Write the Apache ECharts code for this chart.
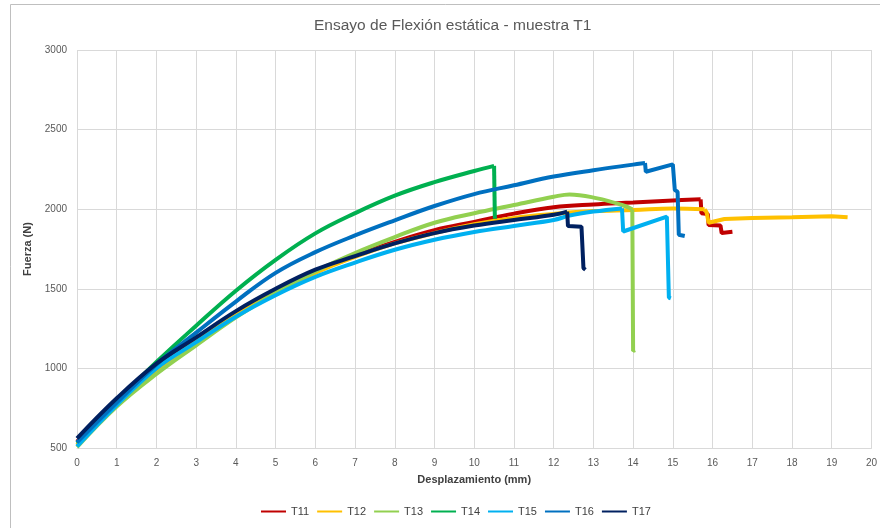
<!DOCTYPE html>
<html>
<head>
<meta charset="utf-8">
<script src="https://cdn.jsdelivr.net/npm/echarts@6/dist/echarts.min.js"></script>
<style>
  html, body { margin: 0; padding: 0; background: #fff; }
  #chart { width: 880px; height: 528px; }
</style>
</head>
<body>
<div id="chart"></div>
<script>
// curves: [desplazamiento mm, fuerza N]
// "rise" = the loading curve, "tail" = the steps and drops after failure
const seriesNames = ['T11', 'T12', 'T13', 'T14', 'T15', 'T16', 'T17']
const seriesColors = ['#C00000', '#FFC000', '#92D050', '#00B050', '#00B0F0', '#0070C0', '#002060']

const t11Rise = [[0, 540], [1, 790], [2, 1010], [3, 1185], [4, 1345], [5, 1490], [6, 1610], [7, 1710], [8, 1795], [9, 1868], [10, 1920], [11, 1972], [12, 2012], [13, 2030], [14, 2042], [15, 2055], [15.7, 2062]]
const t11Tail = [[15.7, 2062], [15.72, 1975], [15.88, 1970], [15.9, 1900], [16.2, 1898], [16.23, 1850], [16.5, 1858]]
const t12Rise = [[0, 520], [1, 775], [2, 990], [3, 1170], [4, 1335], [5, 1480], [6, 1600], [7, 1700], [8, 1785], [9, 1850], [10, 1905], [11, 1945], [12, 1970], [13, 1988], [14, 1995], [15, 2005], [15.8, 2000]]
const t12Tail = [[15.8, 2000], [15.85, 1980], [15.9, 1915], [16.3, 1938], [17, 1945], [18, 1950], [19, 1956], [19.4, 1950]]
const t13Rise = [[0, 505], [1, 760], [2, 965], [3, 1145], [4, 1320], [5, 1475], [6, 1610], [7, 1725], [8, 1825], [9, 1915], [10, 1975], [11, 2026], [12, 2078], [12.4, 2093], [13.1, 2068], [13.7, 2028], [13.98, 2000]]
const t13Tail = [[13.98, 2000], [14.0, 1110], [14.05, 1115]]
const t14Rise = [[0, 530], [1, 790], [2, 1040], [3, 1268], [4, 1488], [5, 1682], [6, 1848], [7, 1975], [8, 2085], [9, 2170], [10, 2240], [10.5, 2272]]
const t14Tail = [[10.5, 2272], [10.52, 1940]]
const t15Rise = [[0, 510], [1, 770], [2, 1000], [3, 1165], [4, 1325], [5, 1460], [6, 1575], [7, 1665], [8, 1745], [9, 1808], [10, 1857], [11, 1895], [12, 1932], [12.4, 1960], [13, 1985], [13.72, 2005]]
const t15Tail = [[13.72, 2005], [13.75, 1860], [14.85, 1953], [14.9, 1445], [14.95, 1440]]
const t16Rise = [[0, 535], [1, 785], [2, 1025], [3, 1225], [4, 1420], [5, 1600], [6, 1730], [7, 1835], [8, 1930], [9, 2020], [10, 2095], [11, 2150], [12, 2205], [13, 2245], [14, 2280], [14.3, 2290]]
const t16Tail = [[14.3, 2290], [14.32, 2235], [15.0, 2282], [15.05, 2120], [15.12, 2110], [15.15, 1840], [15.3, 1832]]
const t17Rise = [[0, 560], [1, 812], [2, 1030], [3, 1195], [4, 1360], [5, 1500], [6, 1620], [7, 1705], [8, 1785], [9, 1850], [10, 1897], [11, 1932], [12, 1965], [12.34, 1985]]
const t17Tail = [[12.34, 1985], [12.36, 1894], [12.7, 1890], [12.75, 1630], [12.8, 1620]]

const riseData = [t11Rise, t12Rise, t13Rise, t14Rise, t15Rise, t16Rise, t17Rise]
const tailData = [t11Tail, t12Tail, t13Tail, t14Tail, t15Tail, t16Tail, t17Tail]

const chart = echarts.init(document.getElementById('chart'))
const font = '"Liberation Sans", Arial, sans-serif'

const series = []
seriesNames.forEach((name, i) => {
  series.push({
    name: name,
    type: 'line',
    data: riseData[i],
    showSymbol: false,
    smooth: 0.4,
    color: seriesColors[i],
    lineStyle: { width: 4, color: seriesColors[i] },
    z: 2 + i
  })
  series.push({
    name: name,
    type: 'line',
    data: tailData[i],
    showSymbol: false,
    color: seriesColors[i],
    lineStyle: { width: 4, color: seriesColors[i] },
    z: 2 + i
  })
})

chart.setOption({
  animation: false,
  textStyle: { fontFamily: font },
  graphic: [
    {
      type: 'rect',
      shape: { x: 10.5, y: 4.5, width: 900, height: 600 },
      style: { fill: 'none', stroke: '#bfbfbf', lineWidth: 1 }
    }
  ],
  title: {
    text: 'Ensayo de Flexión estática - muestra T1',
    left: 309,
    top: 13,
    textStyle: { fontSize: 15.5, fontWeight: 'normal', color: '#595959', fontFamily: font }
  },
  legend: {
    bottom: 6,
    left: 256,
    itemWidth: 25,
    itemHeight: 2,
    itemGap: 8,
    icon: 'rect',
    textStyle: { fontSize: 11, color: '#404040', fontFamily: font },
    data: seriesNames
  },
  grid: { left: 77, right: 7, top: 50, bottom: 80 },
  xAxis: {
    type: 'value',
    min: 0,
    max: 20,
    interval: 1,
    name: 'Desplazamiento (mm)',
    nameLocation: 'middle',
    nameGap: 26,
    nameTextStyle: { fontSize: 11, fontWeight: 'bold', color: '#404040' },
    axisLine: { show: true, lineStyle: { color: '#d9d9d9' } },
    axisTick: { show: false },
    axisLabel: { fontSize: 10, color: '#595959', margin: 10 },
    splitLine: { show: true, lineStyle: { color: '#d9d9d9' } }
  },
  yAxis: {
    type: 'value',
    min: 500,
    max: 3000,
    interval: 500,
    name: 'Fuerza (N)',
    nameLocation: 'middle',
    nameRotate: 90,
    nameGap: 40,
    nameTextStyle: { fontSize: 11, fontWeight: 'bold', color: '#404040' },
    axisLine: { show: false },
    axisTick: { show: false },
    axisLabel: { fontSize: 10, color: '#595959', margin: 10, formatter: (v) => String(v) },
    splitLine: { show: true, lineStyle: { color: '#d9d9d9' } }
  },
  series: series
})
</script>
</body>
</html>
